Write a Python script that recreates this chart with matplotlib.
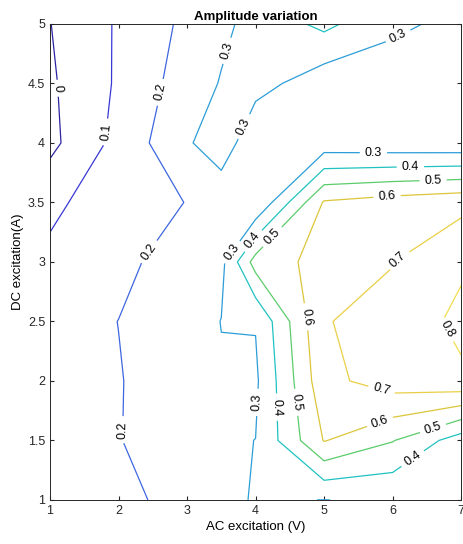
import matplotlib
matplotlib.use("Agg")
import matplotlib.pyplot as plt
import numpy as np
from matplotlib.colors import LinearSegmentedColormap, Normalize

plt.rcParams['font.family'] = ['Liberation Sans', 'DejaVu Sans']

# grid of the measurements
ac_volts = [1, 2, 3, 3.5, 4, 5, 6, 7]
dc_amps = [1, 1.5, 2, 2.5, 3, 3.5, 4, 4.5, 5]

# amplitude, one list per DC excitation (values along ac_volts)
amp_dc_1_0 = [0.14, 0.17, 0.24, 0.27, 0.3085, 0.299, 0.31, 0.32]
amp_dc_1_5 = [0.15, 0.195, 0.28, 0.29, 0.3006, 0.605, 0.505, 0.35]
amp_dc_2_0 = [0.15, 0.195, 0.26, 0.291, 0.284, 0.67, 0.75, 0.777]
amp_dc_2_5 = [0.15, 0.201, 0.25, 0.302, 0.305, 0.697, 0.72, 0.83]
amp_dc_3_0 = [0.13, 0.174, 0.25, 0.273, 0.543, 0.635, 0.698, 0.78]
amp_dc_3_5 = [0.07, 0.18, 0.201, 0.218, 0.203, 0.61, 0.645, 0.672]
amp_dc_4_0 = [-0.025, 0.131, 0.285, 0.37, 0.21, 0.24, 0.232, 0.227]
amp_dc_4_5 = [-0.014, 0.113, 0.249, 0.306, 0.339, 0.239, 0.254, 0.25]
amp_dc_5_0 = [-0.002, 0.111, 0.222, 0.28, 0.33, 0.425, 0.316, 0.279]

levels = [0, 0.1, 0.2, 0.3, 0.4, 0.5, 0.6, 0.7, 0.8]

Z = np.array([amp_dc_1_0, amp_dc_1_5, amp_dc_2_0, amp_dc_2_5, amp_dc_3_0,
              amp_dc_3_5, amp_dc_4_0, amp_dc_4_5, amp_dc_5_0])

# parula-like line colours as they look in the figure (0 -> 0.8)
parula = LinearSegmentedColormap.from_list("parula", [
    "#2c24a2", "#3838d6", "#3d66e0", "#2c9ed8", "#1fc2c2",
    "#58cc6c", "#dcc63a", "#e9cf45", "#f0de50"])
norm = Normalize(vmin=0, vmax=0.8)

fig = plt.figure(figsize=(4.63, 5.44), dpi=100)
ax = fig.add_axes([0.108, 0.081, 0.888, 0.875])

# where the labels sit on the lines
spots = {
    0: [(1.13, 4.46)],
    0.1: [(1.83, 4.09)],
    0.2: [(2.65, 4.42), (2.46, 3.08), (2.02, 1.59)],
    0.3: [(3.55, 4.78), (3.82, 4.14), (6.07, 4.91), (5.72, 3.92),
          (3.66, 3.08), (4.02, 1.82)],
    0.4: [(3.96, 3.18), (6.26, 3.79), (4.31, 1.78), (6.23, 1.4)],
    0.5: [(4.21, 3.23), (6.59, 3.68), (4.58, 1.82), (6.59, 1.6)],
    0.6: [(5.92, 3.54), (4.75, 2.54), (5.85, 1.6)],
    0.7: [(6.08, 3.02), (5.85, 1.95)],
    0.8: [(6.85, 2.45)],
}

# one contour set per level so each gets its own labels
for lv in levels:
    cs = ax.contour(ac_volts, dc_amps, Z, levels=[lv],
                    colors=[parula(norm(lv))], linewidths=0.9)
    ax.clabel(cs, manual=spots[lv], inline=True, colors='k',
              fontsize=9, fmt=lambda v: f"{v:g}")

ax.set_xlim(1, 7)
ax.set_ylim(1, 5)
ax.set_xticks([1, 2, 3, 4, 5, 6, 7])
ax.set_yticks(dc_amps)
ax.set_yticklabels(["1", "1.5", "2", "2.5", "3", "3.5", "4", "4.5", "5"])
ax.tick_params(direction='in', top=True, right=True, length=3,
               labelsize=9, colors='#262626')
for s in ax.spines.values():
    s.set_color('#262626')
    s.set_linewidth(0.7)

ax.set_title("Amplitude variation", fontsize=9.5, fontweight='bold', pad=3)
ax.set_xlabel("AC excitation (V)", fontsize=9.5, labelpad=3)
ax.set_ylabel("DC excitation(A)", fontsize=9.5, labelpad=3)

fig.savefig("out.png", dpi=100)
